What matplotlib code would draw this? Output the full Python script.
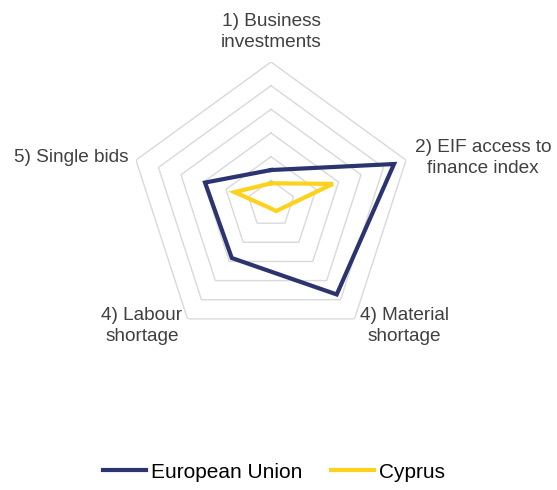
import numpy as np
import matplotlib.pyplot as plt

plt.rcParams['font.family'] = ['Liberation Sans', 'DejaVu Sans']

categories = [
    '1) Business\ninvestments',
    '2) EIF access to\nfinance index',
    '4) Material\nshortage',
    '4) Labour\nshortage',
    '5) Single bids',
]
eu = [0.287, 1.093, 0.945, 0.564, 0.586]
cyprus = [0.175, 0.55, 0.074, 0.035, 0.324]
rings = [0.2, 0.4, 0.6, 0.8, 1.0, 1.2]

W, H = 557, 490
fig = plt.figure(figsize=(W / 100, H / 100), dpi=100)

# polar axes centred at (271, 204) px, radius 142 px
cx, cy, R = 271, 204, 142
ax = fig.add_axes([(cx - R) / W, (H - cy - R) / H, 2 * R / W, 2 * R / H],
                  projection='polar')
ax.set_theta_offset(np.pi / 2)
ax.set_theta_direction(-1)
ax.set_ylim(0, 1.2)
ax.grid(False)
ax.spines['polar'].set_visible(False)
ax.set_xticks([])
ax.set_yticks([])
ax.patch.set_alpha(0)

n = len(categories)
theta = np.linspace(0, 2 * np.pi, n, endpoint=False)
theta_c = np.append(theta, theta[0])

for r in rings:
    ax.plot(theta_c, [r] * (n + 1), color='#d9d9d9', lw=1.0, zorder=1)

ax.plot(theta_c, eu + eu[:1], color='#2c3470', lw=3.0,
        solid_joinstyle='miter', label='European Union', zorder=3)
ax.plot(theta_c, cyprus + cyprus[:1], color='#fcd21c', lw=3.0,
        solid_joinstyle='miter', label='Cyprus', zorder=3)

# axis labels (pixel positions from the reference)
label_pos = [
    (271, 32, 'center'),
    (483, 158, 'center'),
    (404, 326, 'center'),
    (142, 326, 'center'),
    (128, 158, 'right'),
]
for txt, (x, y, ha) in zip(categories, label_pos):
    fig.text(x / W, 1 - y / H, txt, ha=ha, va='center', fontsize=13.7,
             color='#404040', linespacing=1.25, multialignment='center')

fig.legend(loc='center', bbox_to_anchor=(274 / W, 1 - 472 / H), ncol=2,
           frameon=False, fontsize=15, handlelength=2.05, handletextpad=0.25,
           columnspacing=1.4)

fig.savefig('out.png', dpi=100)
